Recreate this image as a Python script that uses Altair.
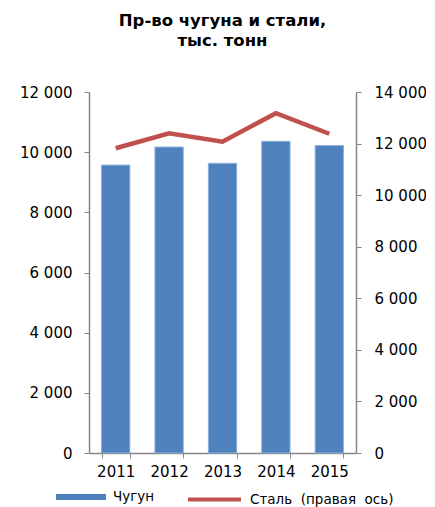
import altair as alt
import pandas as pd

years = ["2011", "2012", "2013", "2014", "2015"]
pig_iron = [9570, 10170, 9630, 10360, 10220]
steel = [11820, 12400, 12070, 13180, 12380]
left_ticks = [0, 2000, 4000, 6000, 8000, 10000, 12000]
right_ticks = [0, 2000, 4000, 6000, 8000, 10000, 12000, 14000]
series_bar = "Чугун"
series_line = "Сталь\u00a0 (правая\u00a0 ось)"
title_lines = ["Пр-во чугуна и стали,", "тыс. тонн"]

df = pd.DataFrame({
    "year": years,
    "pig": pig_iron,
    "steel": steel,
    "s1": [series_bar] * len(years),
    "s2": [series_line] * len(years),
})

label_expr = "replace(format(datum.value, ',d'), ',', ' ')"
FONT = "DejaVu Sans"

x = alt.X(
    "year:N",
    scale=alt.Scale(paddingInner=0.47, paddingOuter=0.235),
    axis=alt.Axis(title=None, labelAngle=0, tickBand="extent", labelPadding=6),
)

bars = alt.Chart(df).mark_bar(stroke="#8DB0DA", strokeWidth=1).encode(
    x=x,
    y=alt.Y(
        "pig:Q",
        scale=alt.Scale(domain=[0, 12000], nice=False),
        axis=alt.Axis(values=left_ticks, labelExpr=label_expr, title=None,
                      orient="left", grid=False, labelPadding=12),
    ),
    color=alt.Color(
        "s1:N",
        scale=alt.Scale(domain=[series_bar], range=["#4F81BD"]),
        legend=alt.Legend(
            title=None, orient="none", legendX=-33, legendY=380,
            symbolType="M-1,-0.12H1V0.12H-1Z", symbolSize=2500,
            symbolStrokeWidth=0, symbolOpacity=1, labelOffset=7,
            labelFontSize=13.5, labelFont=FONT, labelColor="#000000", padding=0,
        ),
    ),
)

line = alt.Chart(df).mark_line(strokeWidth=4.5).encode(
    x=x,
    y=alt.Y(
        "steel:Q",
        scale=alt.Scale(domain=[0, 14000], nice=False),
        axis=alt.Axis(values=right_ticks, labelExpr=label_expr, title=None,
                      orient="right", grid=False, labelPadding=13),
    ),
    stroke=alt.Stroke(
        "s2:N",
        scale=alt.Scale(domain=[series_line], range=["#C0504D"]),
        legend=alt.Legend(
            title=None, orient="none", legendX=97, legendY=379,
            symbolType="stroke", symbolSize=2809, symbolStrokeWidth=4,
            labelOffset=7, labelFontSize=13.5, labelFont=FONT,
            labelColor="#000000", padding=0,
        ),
    ),
)

chart = (
    alt.layer(bars, line)
    .resolve_scale(y="independent", color="independent", stroke="independent")
    .properties(
        width=267,
        height=361,
        autosize=alt.AutoSizeParams(type="none"),
        padding={"left": 81, "top": 84, "right": 70, "bottom": 56},
        title=alt.Title(
            title_lines, font=FONT, fontSize=16.5, fontWeight="bold",
            lineHeight=20, anchor="middle", offset=36, color="#000000",
        ),
    )
    .configure_view(stroke=None)
    .configure_axis(
        domainColor="#868686", tickColor="#868686", tickSize=5,
        labelFont=FONT, labelFontSize=15, labelColor="#000000",
        domainWidth=1.5, tickWidth=1,
    )
)

chart.save("out.html", embed_options={"renderer": "svg", "actions": False})
